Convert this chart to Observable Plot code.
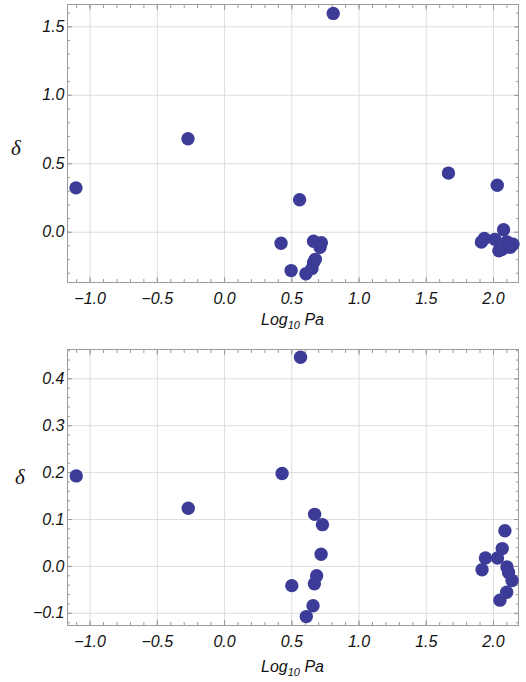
<!DOCTYPE html>
<html><head><meta charset="utf-8">
<script src="https://cdn.jsdelivr.net/npm/d3@7"></script>
<script src="https://cdn.jsdelivr.net/npm/@observablehq/plot@0.6"></script>
<style>
body{margin:0;background:#fff;}
#chart{width:526px;}
svg{display:block;}
</style></head><body><div id="chart"></div>
<script>
// ---- data ----
const xTickValues = [-1.0, -0.5, 0.0, 0.5, 1.0, 1.5, 2.0];
const topYTickValues = [0.0, 0.5, 1.0, 1.5];
const bottomYTickValues = [-0.1, 0.0, 0.1, 0.2, 0.3, 0.4];

const topLogPa = [-1.105, -0.272, 0.808, 0.558, 0.420, 0.495, 0.605, 0.650, 0.662, 0.675, 0.662, 0.720, 0.710,
  1.665, 2.028, 1.910, 1.932, 2.010, 2.075, 2.040, 2.065, 2.100, 2.125, 2.145];
const topDelta = [0.324, 0.683, 1.598, 0.237, -0.080, -0.280, -0.303, -0.265, -0.220, -0.198, -0.066, -0.076, -0.110,
  0.432, 0.343, -0.072, -0.045, -0.052, 0.018, -0.135, -0.125, -0.070, -0.110, -0.088];

const bottomLogPa = [-1.103, -0.270, 0.428, 0.565, 0.500, 0.670, 0.728, 0.718, 0.685, 0.668, 0.658, 0.608,
  1.915, 1.940, 2.030, 2.065, 2.085, 2.100, 2.112, 2.138, 2.098, 2.048];
const bottomDelta = [0.193, 0.124, 0.198, 0.446, -0.041, 0.111, 0.089, 0.026, -0.020, -0.037, -0.084, -0.107,
  -0.007, 0.018, 0.018, 0.038, 0.076, -0.001, -0.013, -0.030, -0.055, -0.072];

const xLabelParts = ["Log", "10", " Pa"];
const yLabel = "δ";

const xDomain = [-1.168, 2.186];
const topYDomain = [-0.367, 1.663];
const bottomYDomain = [-0.126, 0.4625];

const dotColor = "#3d3b98";
const frameGrey = "#9c9c9c";
const gridGrey = "#dedede";
const textColor = "#111";

function panel({xs, ys, yTicks, yDomain, yMinorCount, height, marginTop, marginBottom, labelBaseline, deltaX, deltaBaseline}) {
  const data = xs.map((x, i) => ({x, y: ys[i]}));
  const xMinor = d3.ticks(xDomain[0], xDomain[1], 34);
  const yMinor = d3.ticks(yDomain[0], yDomain[1], yMinorCount);
  const fmt = d3.format(".1f");
  const tickOpts = (anchor, size) => ({anchor, tickSize: size, fill: "none", stroke: frameGrey, label: null});
  const plot = Plot.plot({
    width: 526, height, marginTop, marginBottom, marginLeft: 67, marginRight: 8,
    x: {domain: xDomain, label: null},
    y: {domain: yDomain, label: null},
    style: {fontFamily: "'Liberation Sans', Arial, sans-serif", fontSize: "16px", fontStyle: "italic", color: textColor, background: "#fff"},
    marks: [
      Plot.gridX(xTickValues, {stroke: gridGrey, strokeOpacity: 1}),
      Plot.gridY(yTicks, {stroke: gridGrey, strokeOpacity: 1}),
      Plot.axisX(xMinor, tickOpts("bottom", -3)),
      Plot.axisX(xTickValues, tickOpts("bottom", -5)),
      Plot.axisX(xMinor, tickOpts("top", -3)),
      Plot.axisX(xTickValues, tickOpts("top", -5)),
      Plot.axisY(yMinor, tickOpts("left", -3)),
      Plot.axisY(yTicks, tickOpts("left", -5)),
      Plot.axisY(yMinor, tickOpts("right", -3)),
      Plot.axisY(yTicks, tickOpts("right", -5)),
      Plot.axisX(xTickValues, {anchor: "bottom", tickSize: 0, tickPadding: 10, tickFormat: fmt, fill: textColor, fontSize: 16, label: null}),
      Plot.axisY(yTicks, {anchor: "left", tickSize: 0, tickPadding: 3, tickFormat: fmt, fill: textColor, fontSize: 16, label: null}),
      Plot.frame({stroke: frameGrey}),
      Plot.dot(data, {x: "x", y: "y", r: 6.7, fill: dotColor, stroke: "none"})
    ]
  });
  const svg = d3.select(plot);
  const t = svg.append("text")
    .attr("x", 292.5).attr("y", labelBaseline)
    .attr("text-anchor", "middle").attr("fill", textColor)
    .style("font-style", "italic").style("font-size", "16px");
  t.append("tspan").text(xLabelParts[0]);
  t.append("tspan").style("font-size", "11px").attr("dy", 4).text(xLabelParts[1]);
  t.append("tspan").attr("dy", -4).text(xLabelParts[2]);
  svg.append("text")
    .attr("x", deltaX).attr("y", deltaBaseline)
    .attr("text-anchor", "middle").attr("fill", textColor)
    .style("font-family", "'Liberation Serif', 'DejaVu Serif', serif")
    .style("font-style", "italic").style("font-size", "21px")
    .text(yLabel);
  return plot;
}

const chart = document.getElementById("chart");
chart.appendChild(panel({xs: topLogPa, ys: topDelta, yTicks: topYTickValues, yDomain: topYDomain, yMinorCount: 20,
  height: 335, marginTop: 4, marginBottom: 53, labelBaseline: 325, deltaX: 16, deltaBaseline: 155}));
chart.appendChild(panel({xs: bottomLogPa, ys: bottomDelta, yTicks: bottomYTickValues, yDomain: bottomYDomain, yMinorCount: 30,
  height: 347, marginTop: 14, marginBottom: 57, labelBaseline: 337, deltaX: 20, deltaBaseline: 149}));
</script>
</body></html>
